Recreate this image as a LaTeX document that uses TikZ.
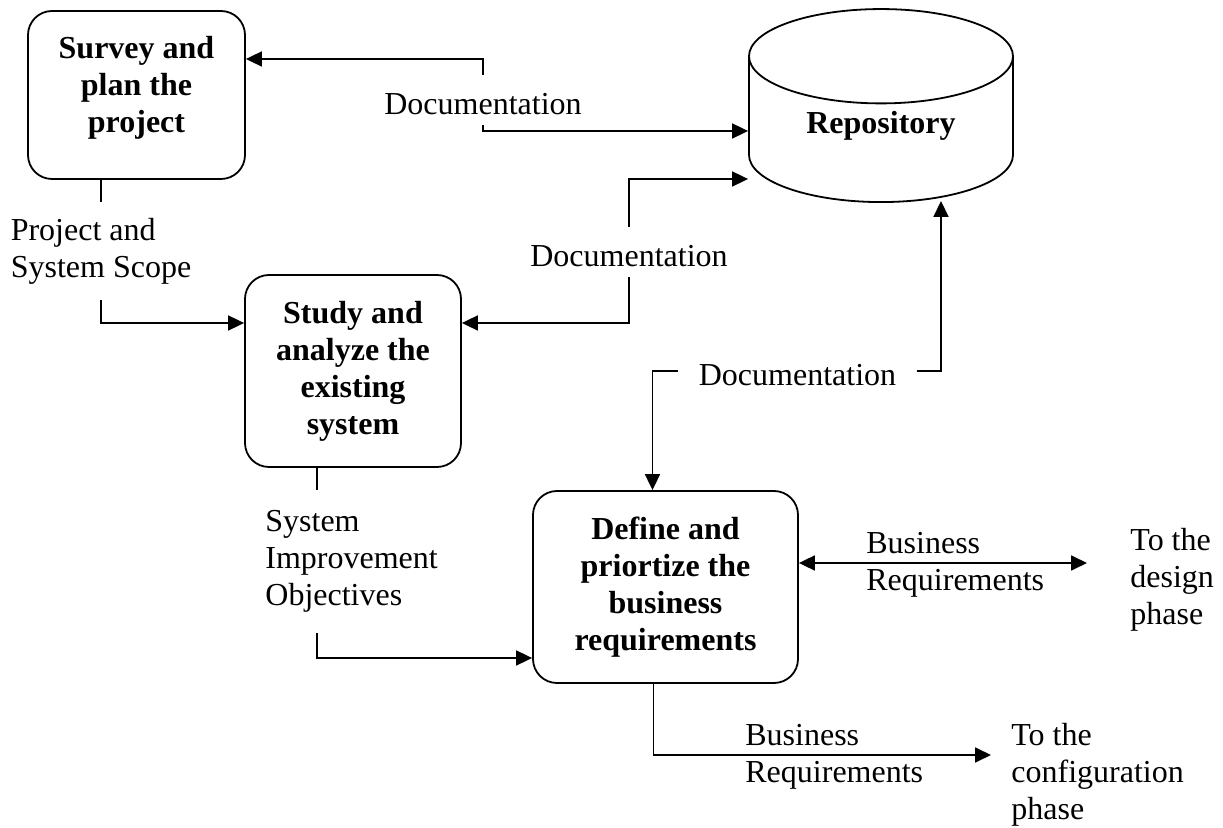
\documentclass[tikz,border=0pt]{standalone}
\usepackage{fontspec}
\setmainfont{Liberation Serif}
\usetikzlibrary{arrows.meta, positioning, shapes.geometric, calc}
\newcommand{\diagfont}{\fontsize{16}{18.5}\selectfont}

\begin{document}
\begin{tikzpicture}[
    x=0.5pt, y=-0.5pt,
    font=\diagfont,
    proc/.style={
        draw=black,
        fill=white,
        rectangle,
        rounded corners=12pt,
        align=center,
        inner sep=0pt,
        line width=0.9pt,
        font=\diagfont\bfseries
    },
    store/.style={
        draw=black,
        cylinder,
        shape border rotate=90,
        aspect=0.58,
        minimum width=132pt,
        minimum height=96.5pt,
        line width=0.9pt,
        font=\diagfont\bfseries
    },
    arrow/.style={
        -{Triangle[length=8pt, width=7.5pt]},
        line width=0.9pt
    },
    twoway/.style={
        {Triangle[length=8pt, width=7.5pt]}-{Triangle[length=8pt, width=7.5pt]},
        line width=0.9pt
    },
    link/.style={line width=0.9pt},
    doc/.style={inner xsep=10pt, inner ysep=5pt, text height=15pt, text depth=0pt},
    flow/.style={align=left, inner sep=0pt}
]
\useasboundingbox (0,0) rectangle (1223,828);

% processes and the repository
\node[proc, minimum width=108.5pt, minimum height=84pt] (survey) at (136.5,95) {};
\node[align=center, font=\diagfont\bfseries] (surveytxt) at ([yshift=3.5pt]survey.center) {Survey and\\plan the\\project};
\node[proc, minimum width=108pt, minimum height=96pt] (study) at (353,371) {Study and\\analyze the\\existing\\system};
\node[proc, minimum width=132.5pt, minimum height=96pt] (define) at (665.5,587) {Define and\\priortize the\\business\\requirements};
\node[store] (repo) at (881,137) {\raisebox{5.5pt}[\height][\depth]{Repository}};

% flow labels
\node[doc] (doc1) at (483,100) {Documentation};
\node[doc] (doc2) at (629,252) {Documentation};
\node[doc] (doc3) at (797.5,371) {Documentation};
\node[flow, inner ysep=8pt] (scope) at (101,251) {Project and\\System Scope};
\node[flow, inner ysep=10pt, anchor=north west] (objectives) at (265,490) {System\\Improvement\\Objectives};
\node[flow, anchor=west] (busreq1) at (866,565) {Business\\Requirements};
\node[flow, anchor=west] (design) at (1130,580) {To the\\design\\phase};
\node[flow, anchor=west] (busreq2) at (745,757) {Business\\Requirements};
\node[flow, anchor=west] (config) at (1011,775) {To the\\configuration\\phase};
\coordinate (todesign) at (1087,563);
\coordinate (toconfig) at (991,755);
\coordinate (objx) at ([xshift=-18pt]study.south);

% documentation to and from the repository
\draw[arrow] (doc1.north) |- ([yshift=18pt]survey.east);
\draw[arrow] (doc1.south) |- ([yshift=3pt]repo.west);
\draw[arrow] (doc2.north) |- ([yshift=-21pt]repo.west);
\draw[arrow] (doc2.south) |- ([yshift=24pt]study.east);
\draw[arrow] (doc3.east) -| ([xshift=30pt, yshift=1pt]repo.south);
\draw[arrow] (doc3.west) -| ([xshift=-6.5pt]define.north);

% phase outputs
\draw[link] (survey.south -| scope) -- (scope.north);
\draw[arrow] (scope.south) |- ([yshift=24pt]study.west);
\draw[link] (objx) -- (objx |- objectives.north);
\draw[arrow] (objx |- objectives.south) |- ([yshift=-35.5pt]define.west);
\draw[twoway] ([yshift=12pt]define.east) -- (todesign);
\draw[arrow] ([xshift=-6pt]define.south) |- (toconfig);

\end{tikzpicture}
\end{document}
